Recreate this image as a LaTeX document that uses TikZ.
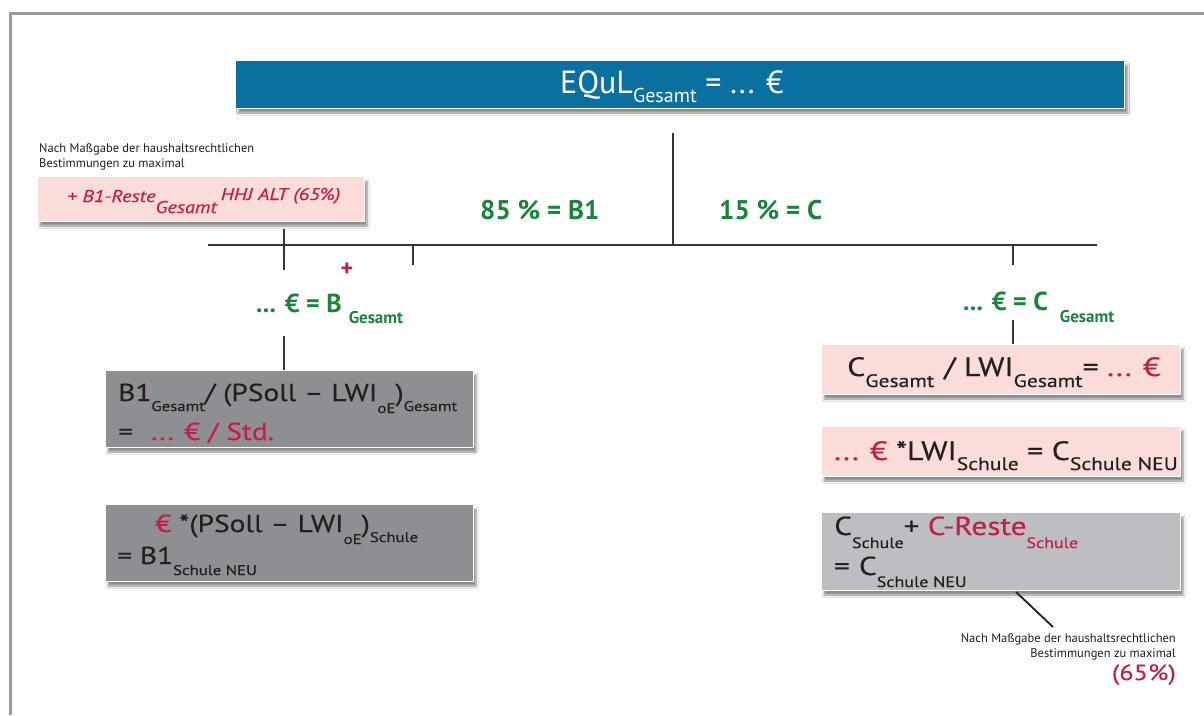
\documentclass[tikz,border=0pt]{standalone}
\usepackage{fontspec}
\setmainfont{PT Sans}
\newfontfamily\breit{PT Sans}[FakeStretch=1.2, FakeBold=0.4]
\usepackage{xcolor}
\usetikzlibrary{positioning, calc, shadows.blur}

\definecolor{titelblau}{HTML}{0A70A0}
\definecolor{gruen}{HTML}{1A843C}
\definecolor{karmin}{HTML}{C41E48}
\definecolor{rosa}{HTML}{FADCD8}
\definecolor{dunkelgrau}{HTML}{8E8F93}
\definecolor{hellgrau}{HTML}{BDBEC1}
\definecolor{rahmengrau}{HTML}{9A9A9A}
\definecolor{tinte}{HTML}{231F20}

\newcommand{\schrift}[1]{\fontsize{#1}{#1}\selectfont}
\newcommand{\tief}[3]{\raisebox{-#1}{\schrift{#2}#3}}

\tikzset{
  kasten/.style={rectangle, inner sep=0pt, draw=white, line width=1pt,
    blur shadow={shadow xshift=3pt, shadow yshift=-5pt, shadow blur steps=6, shadow opacity=45}},
  rosakasten/.style={kasten, fill=rosa},
  graukasten/.style={kasten, fill=dunkelgrau},
  hellkasten/.style={kasten, fill=hellgrau},
  zeile/.style={anchor=base west, inner sep=0pt, text=tinte},
  gruentext/.style={anchor=base west, inner sep=0pt, text=gruen, font=\bfseries\schrift{27}},
  notiz/.style={inner sep=0pt, text=tinte, font=\fontsize{12.5}{14.5}\selectfont},
  linie/.style={line width=2.2pt, draw=tinte!90}
}

\begin{document}
\begin{tikzpicture}[x=1pt, y=-1pt]
    \useasboundingbox (0,0) rectangle (1204,715);
    \fill[white] (0,0) rectangle (1204,715);
    \draw[line width=3pt, rahmengrau] (10,715) -- (10,13) -- (1204,13);

    % Titel
    \node[kasten, fill=titelblau, minimum width=889pt, minimum height=48pt] (titel) at (680,84) {};
    \node[anchor=base west, inner sep=0pt, text=white, font=\schrift{32}] (titeltext) at (560,93)
        {EQuL\tief{9pt}{20}{Gesamt} = ... €};

    % Stamm und Balken
    \coordinate (stammoben) at (673,133);
    \coordinate (stammunten) at (673,245);
    \coordinate (balkenL) at (208,245);
    \coordinate (balkenR) at (1097,245);
    \draw[linie] (stammoben) -- (stammunten);
    \draw[linie] (balkenL) -- (balkenR);

    \node[gruentext] (anteilB) at (480,219) {85 \% = B1};
    \node[gruentext] (anteilC) at (719,219) {15 \% = C};

    % linker Zweig
    \node[notiz, anchor=base west, align=left] (notizL) at (39,167)
        {Nach Maßgabe der haushaltsrechtlichen\\Bestimmungen zu maximal};
    \node[rosakasten, minimum width=327pt, minimum height=45pt] (resteB) at (200.5,198.5) {};
    \node[anchor=base west, inner sep=0pt, text=karmin, font=\breit\itshape\schrift{17}] (resteBtext) at (67,202)
        {+ B1-Reste\tief{11pt}{17}{Gesamt}\hspace{4pt}\raisebox{2pt}{HHJ ALT (65\%)}};

    \coordinate (tickA1) at (284,229);
    \coordinate (tickA2) at (284,270);
    \coordinate (tickB1) at (413,245);
    \coordinate (tickB2) at (413,265);
    \draw[linie] (tickA1) -- (tickA2);
    \draw[linie] (tickB1) -- (tickB2);

    \node[inner sep=0pt, text=karmin, font=\bfseries\schrift{24}] (plus) at (347,270) {+};
    \node[gruentext, font=\bfseries\schrift{26}] (bGesamt) at (256,312)
        {... € = B\hspace{7pt}\tief{11pt}{17}{Gesamt}};

    \coordinate (b1oben) at (284,336);
    \node[graukasten, minimum width=368pt, minimum height=77pt] (boxB1) at (289,408.5) {};
    \node[zeile, font=\breit\schrift{24.5}] (b1zeileA) at (118,401)
        {B1\tief{10pt}{14}{Gesamt}/ (PSoll – LWI\tief{12pt}{14}{oE})\tief{10pt}{14}{Gesamt}};
    \node[zeile, font=\breit\schrift{24.5}] (b1zeileB) at (118,440)
        {=\hspace{18pt}{\color{karmin}... € / Std.}};
    \draw[linie] (b1oben) -- (b1oben |- boxB1.north);

    \node[graukasten, minimum width=368pt, minimum height=77pt] (boxB2) at (289,542.5) {};
    \node[zeile, font=\breit\schrift{24.5}] (b2zeileA) at (155,532)
        {{\color{karmin}€} *(PSoll – LWI\tief{12pt}{14}{oE})\tief{10pt}{14}{Schule}};
    \node[zeile, font=\breit\schrift{24.5}] (b2zeileB) at (117,564)
        {= B1\tief{11pt}{14}{Schule NEU}};

    % rechter Zweig
    \coordinate (tickC1) at (1013,245);
    \coordinate (tickC2) at (1013,265);
    \draw[linie] (tickC1) -- (tickC2);
    \node[gruentext, font=\bfseries\schrift{26}] (cGesamt) at (963,310)
        {... € = C\hspace{12pt}\tief{12pt}{17}{Gesamt}};

    \coordinate (c1oben) at (1013,320);
    \node[rosakasten, minimum width=359pt, minimum height=50pt] (boxC1) at (1000.5,369) {};
    \node[zeile, font=\breit\schrift{26.5}] (c1zeile) at (847,376)
        {C\tief{11pt}{18}{Gesamt}\hspace{10pt}/ LWI\tief{11pt}{18}{Gesamt}= {\color{karmin}... €}};
    \draw[linie] (c1oben) -- (c1oben |- boxC1.north);

    \node[rosakasten, minimum width=359pt, minimum height=50pt] (boxC2) at (1000.5,451) {};
    \node[zeile, font=\breit\schrift{26.5}] (c2zeile) at (834,460)
        {{\color{karmin}... €} *LWI\tief{10pt}{18}{Schule} = C\tief{10pt}{18}{Schule NEU}};

    \node[hellkasten, minimum width=359pt, minimum height=78pt] (boxC3) at (1000.5,551) {};
    \node[zeile, font=\breit\schrift{26}] (c3zeileA) at (834,535)
        {C\tief{13pt}{15}{Schule}+ {\color{karmin}C-Reste\tief{13pt}{15}{Schule}}};
    \node[zeile, font=\breit\schrift{26}] (c3zeileB) at (834,575)
        {=\hspace{9pt}C\tief{12pt}{15}{Schule NEU}};

    \coordinate (zeigerA) at (1016,592);
    \coordinate (zeigerB) at (1053,627);
    \draw[line width=1.8pt, tinte] (zeigerA) -- (zeigerB);
    \node[notiz, anchor=base east, align=right] (notizR) at (1176,657)
        {Nach Maßgabe der haushaltsrechtlichen\\Bestimmungen zu maximal};
    \node[inner sep=0pt, anchor=base east, text=karmin, font=\breit\schrift{22}] (prozentR) at (1176,680) {(65\%)};
\end{tikzpicture}
\end{document}
